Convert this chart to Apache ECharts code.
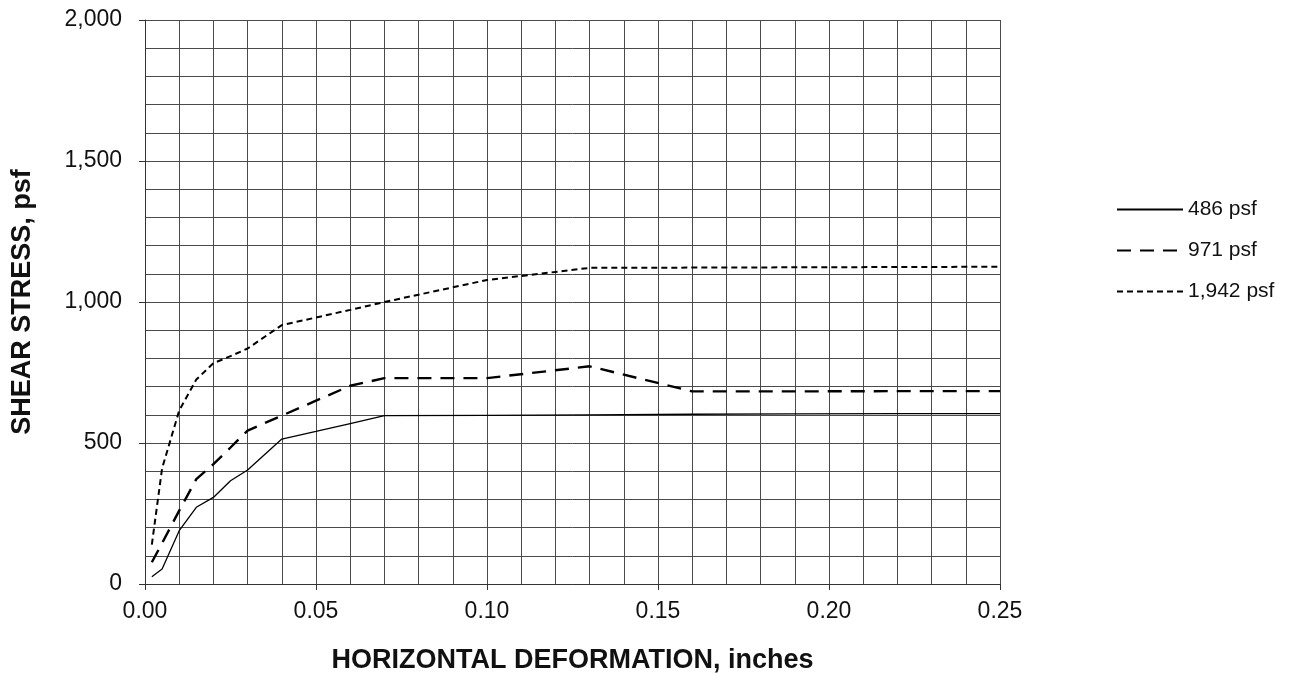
<!DOCTYPE html>
<html>
<head>
<meta charset="utf-8">
<script src="https://cdn.jsdelivr.net/npm/echarts@6/dist/echarts.min.js"></script>
<style>
	html, body { margin: 0; padding: 0; background: #fff; }
	#chart { width: 1291px; height: 673px; }
</style>
</head>
<body>
<div id="chart"></div>
<script>
// horizontal deformation (inches)
var deformation = [0.002, 0.005, 0.01, 0.015, 0.02, 0.025, 0.03, 0.04, 0.05, 0.06, 0.07, 0.10, 0.13, 0.16, 0.19, 0.22, 0.25]
// shear stress (psf) for each normal stress
var stress486 = [26, 53, 189, 272, 307, 366, 404, 514, 541, 569, 597, 598, 600, 602, 603, 604, 604]
var stress971 = [77, 145, 260, 372, 425, 484, 544, 597, 650, 703, 730, 730, 772, 683, 683, 684, 684]
var stress1942 = [140, 410, 615, 725, 783, 808, 835, 918, 945, 972, 1000, 1078, 1121, 1122, 1123, 1124, 1125]
var seriesNames = ['486 psf', '971 psf', '1,942 psf']

function pairs(ys) {
	return deformation.map(function(x, i) { return [x, ys[i]] })
}

var gridColor = '#4a4a4a'
var font = 'Liberation Sans, Arial, sans-serif'

var myChart = echarts.init(document.getElementById('chart'), null, { renderer: 'canvas' })

myChart.setOption({
	animation: false,
	backgroundColor: '#ffffff',
	grid: {
		left: 145,
		right: 291,
		top: 20,
		bottom: 89,
		outerBoundsMode: 'none',
		containLabel: false
	},
	legend: {
		orient: 'vertical',
		left: 1111,
		top: 194,
		itemWidth: 66,
		itemHeight: 14,
		itemGap: 20,
		textStyle: { fontFamily: font, fontSize: 21, color: '#111', padding: [0, 0, 0, 0] },
		itemStyle: { opacity: 0 },
		data: seriesNames
	},
	xAxis: {
		type: 'value',
		min: 0,
		max: 0.25,
		interval: 0.05,
		name: 'HORIZONTAL DEFORMATION, inches',
		nameLocation: 'middle',
		nameGap: 63,
		nameTextStyle: { fontFamily: font, fontSize: 27, fontWeight: 'bold', color: '#111' },
		axisLine: { show: true, lineStyle: { color: '#333', width: 1 } },
		axisTick: { show: true, length: 6, lineStyle: { color: '#333' } },
		axisLabel: {
			fontFamily: font, fontSize: 23, color: '#111', margin: 16,
			formatter: function(v) { return v.toFixed(2) }
		},
		splitLine: { show: true, lineStyle: { color: gridColor, width: 1 } },
		minorTick: { show: false, splitNumber: 5 },
		minorSplitLine: { show: true, lineStyle: { color: gridColor, width: 1 } }
	},
	yAxis: {
		type: 'value',
		min: 0,
		max: 2000,
		interval: 500,
		name: 'SHEAR STRESS, psf',
		nameLocation: 'middle',
		nameGap: 109,
		nameTextStyle: { fontFamily: font, fontSize: 27, fontWeight: 'bold', color: '#111' },
		axisLine: { show: true, lineStyle: { color: '#333', width: 1 } },
		axisTick: { show: true, length: 6, lineStyle: { color: '#333' } },
		axisLabel: {
			fontFamily: font, fontSize: 23, color: '#111', margin: 23,
			formatter: function(v) { return v.toLocaleString('en-US') }
		},
		splitLine: { show: true, lineStyle: { color: gridColor, width: 1 } },
		minorTick: { show: false, splitNumber: 5 },
		minorSplitLine: { show: true, lineStyle: { color: gridColor, width: 1 } }
	},
	series: [
		{
			name: seriesNames[0],
			type: 'line',
			symbol: 'none',
			data: pairs(stress486),
			lineStyle: { color: '#000', width: 1.3, type: 'solid' },
			itemStyle: { color: '#000' }
		},
		{
			name: seriesNames[1],
			type: 'line',
			symbol: 'none',
			data: pairs(stress971),
			lineStyle: { color: '#000', width: 2.4, type: [14, 9] },
			itemStyle: { color: '#000' }
		},
		{
			name: seriesNames[2],
			type: 'line',
			symbol: 'none',
			data: pairs(stress1942),
			lineStyle: { color: '#000', width: 2, type: [6, 4] },
			itemStyle: { color: '#000' }
		}
	]
})
</script>
</body>
</html>
